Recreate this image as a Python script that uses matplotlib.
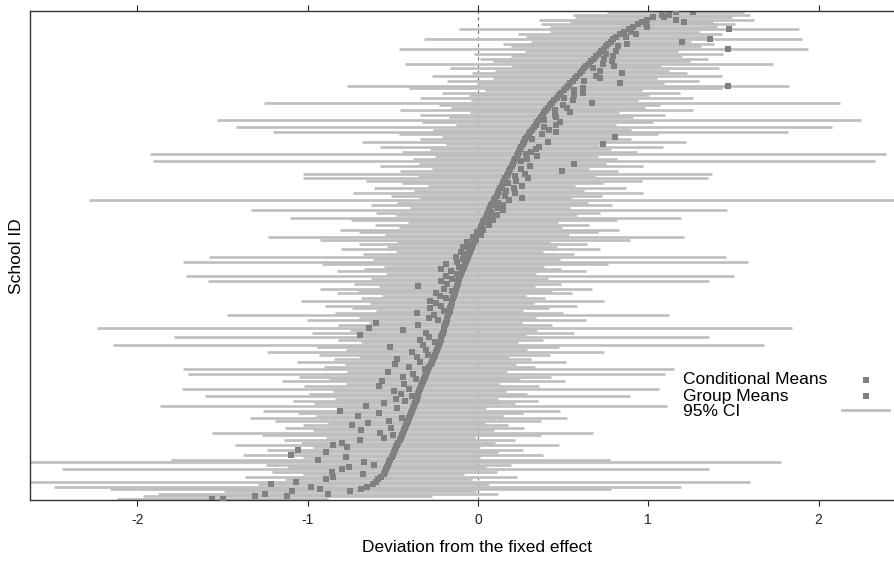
import numpy as np
import matplotlib
matplotlib.use('Agg')
import matplotlib.pyplot as plt

# schools sorted by conditional mean (bottom row first)
cond_means = [
    -1.50, -1.12, -0.88, -0.75, -0.69, -0.65, -0.615, -0.60, -0.585, -0.57,
    -0.555, -0.548, -0.541, -0.535, -0.528, -0.521, -0.515, -0.508, -0.501, -0.495,
    -0.488, -0.481, -0.475, -0.468, -0.461, -0.455, -0.449, -0.443, -0.437, -0.431,
    -0.425, -0.419, -0.413, -0.408, -0.402, -0.396, -0.39, -0.384, -0.378, -0.372,
    -0.367, -0.361, -0.355, -0.35, -0.344, -0.338, -0.332, -0.327, -0.321, -0.315,
    -0.31, -0.304, -0.297, -0.291, -0.285, -0.279, -0.273, -0.267, -0.261, -0.255,
    -0.249, -0.243, -0.237, -0.231, -0.225, -0.22, -0.215, -0.211, -0.207, -0.202,
    -0.198, -0.193, -0.189, -0.185, -0.18, -0.176, -0.171, -0.167, -0.162, -0.158,
    -0.154, -0.15, -0.146, -0.141, -0.137, -0.133, -0.128, -0.124, -0.12, -0.115,
    -0.111, -0.107, -0.102, -0.096, -0.09, -0.084, -0.078, -0.072, -0.066, -0.061,
    -0.055, -0.049, -0.043, -0.037, -0.031, -0.025, -0.019, -0.012, -0.005, 0.002,
    0.009, 0.016, 0.023, 0.03, 0.037, 0.044, 0.051, 0.058, 0.065, 0.072,
    0.079, 0.087, 0.094, 0.101, 0.109, 0.116, 0.124, 0.131, 0.138, 0.146,
    0.153, 0.161, 0.168, 0.175, 0.183, 0.19, 0.197, 0.204, 0.212, 0.219,
    0.226, 0.233, 0.241, 0.248, 0.255, 0.262, 0.27, 0.277, 0.287, 0.297,
    0.308, 0.318, 0.328, 0.339, 0.349, 0.359, 0.37, 0.38, 0.39, 0.401,
    0.411, 0.421, 0.435, 0.448, 0.462, 0.475, 0.488, 0.502, 0.515, 0.529,
    0.542, 0.555, 0.569, 0.582, 0.596, 0.609, 0.623, 0.637, 0.652, 0.666,
    0.68, 0.695, 0.709, 0.723, 0.737, 0.752, 0.766, 0.78, 0.795, 0.81,
    0.835, 0.86, 0.886, 0.911, 0.937, 0.962, 0.99, 1.03, 1.08, 1.16,
]

# group mean minus conditional mean (amount of shrinkage)
group_shift = [
    -0.06, -0.19, -0.37, -0.34, -0.24, -0.33, -0.60, -0.47, -0.31, -0.28,
    -0.12, -0.31, -0.26, -0.225, -0.08, -0.15, -0.425, -0.27, -0.60, -0.395,
    -0.57, -0.29, -0.375, -0.33, -0.23, -0.10, -0.05, -0.13, -0.25, -0.08,
    -0.315, -0.23, -0.11, -0.04, -0.30, -0.185, -0.42, -0.09, -0.28, -0.18,
    -0.06, -0.12, -0.03, -0.10, -0.15, -0.07, -0.25, -0.11, -0.24, -0.05,
    -0.13, -0.08, -0.23, -0.02, -0.12, -0.21, -0.07, -0.21, -0.10, -0.04,
    -0.14, -0.06, -0.28, -0.09, -0.03, -0.12, -0.07, -0.48, -0.10, -0.24,
    -0.44, -0.16, -0.41, -0.05, -0.11, -0.08, -0.19, -0.03, -0.12, -0.06,
    -0.09, -0.13, -0.04, -0.08, -0.11, -0.02, -0.07, -0.23, -0.06, -0.10,
    -0.04, -0.08, -0.02, -0.06, -0.13, -0.03, -0.11, -0.05, -0.02, -0.07,
    -0.03, -0.05, -0.01, -0.05, -0.02, -0.04, 0.01, -0.02, 0.02, -0.01,
    0.02, 0.01, 0.04, 0.02, 0.05, 0.03, 0.06, 0.02, 0.08, 0.04,
    0.07, 0.03, 0.09, 0.16, 0.05, 0.10, 0.04, 0.08, 0.12, 0.03,
    0.07, 0.13, 0.05, 0.10, 0.31, 0.06, 0.11, 0.36, 0.04, 0.07,
    0.12, 0.05, 0.07, 0.09, 0.105, 0.47, 0.14, 0.04, 0.52, 0.08,
    0.15, 0.10, 0.06, 0.12, 0.13, 0.03, 0.09, 0.07, 0.15, 0.05,
    0.11, 0.08, 0.235, 0.11, 0.04, 0.09, 0.13, 0.06, 0.10, 0.94,
    0.29, 0.07, 0.15, 0.11, 0.25, 0.11, 0.05, 0.16, 0.08, 0.12,
    0.06, 0.10, 0.04, 0.09, 0.73, 0.07, 0.11, 0.42, 0.565, 0.06,
    0.09, 0.04, 0.585, 0.08, 0.05, 0.25, 0.17, 0.06, 0.04, 0.10,
]

# half width of the 95% interval
ci_halfwidth = [
    0.62, 0.85, 1.00, 0.74, 1.47, 1.84, 0.68, 2.20, 0.55, 0.80,
    0.47, 0.66, 1.90, 0.58, 0.72, 2.30, 1.29, 0.52, 0.88, 0.61,
    0.75, 0.49, 0.95, 0.57, 0.68, 0.44, 0.82, 1.12, 0.53, 0.70,
    0.60, 0.46, 0.78, 0.93, 0.55, 0.66, 0.87, 0.43, 1.49, 0.59,
    0.72, 0.48, 1.25, 0.64, 0.51, 1.40, 0.69, 0.45, 0.83, 0.56,
    0.74, 1.40, 0.47, 1.44, 0.62, 0.50, 0.79, 0.58, 0.44, 0.68,
    0.99, 0.53, 0.71, 1.91, 0.46, 0.60, 1.57, 0.49, 0.77, 0.55,
    2.04, 0.63, 0.45, 0.82, 0.52, 1.30, 0.67, 0.43, 0.58, 0.74,
    0.48, 0.89, 0.54, 0.42, 0.69, 0.57, 0.80, 0.46, 0.61, 1.47,
    0.52, 1.61, 0.44, 0.73, 0.58, 0.47, 0.84, 1.66, 0.55, 1.52,
    0.62, 0.43, 0.76, 0.50, 0.67, 0.45, 0.91, 1.22, 0.54, 0.70,
    0.82, 0.48, 0.63, 0.44, 0.78, 1.15, 0.53, 0.66, 1.40, 0.47,
    0.71, 0.56, 2.38, 0.45, 0.62, 0.85, 0.50, 0.74, 0.43, 0.59,
    0.81, 1.19, 0.52, 1.20, 0.64, 0.46, 0.77, 0.55, 2.12, 0.60,
    0.48, 2.16, 0.69, 0.53, 0.83, 0.45, 0.95, 0.62, 0.50, 0.76,
    1.51, 0.58, 1.75, 0.47, 0.68, 1.89, 0.54, 0.72, 0.44, 0.86,
    0.57, 0.65, 1.69, 0.49, 0.80, 0.53, 0.70, 0.46, 0.92, 1.30,
    0.55, 0.74, 0.48, 0.85, 0.63, 0.51, 0.79, 0.44, 1.08, 0.58,
    0.67, 0.50, 0.73, 0.45, 1.20, 0.56, 0.62, 0.47, 1.11, 0.53,
    0.60, 0.44, 1.00, 0.49, 0.57, 0.42, 0.63, 0.46, 0.52, 0.40,
]

x_ticks = [-2, -1, 0, 1, 2]
legend_labels = ['Conditional Means', 'Group Means', '95% CI']

plt.rcParams['font.family'] = ['Liberation Sans', 'DejaVu Sans']
plt.rcParams['axes.unicode_minus'] = False

cond = np.array(cond_means)
group = cond + np.array(group_shift)
hw = np.array(ci_halfwidth)
rows = np.arange(1, len(cond) + 1)

pt_col = '#808080'
ci_col = '#bebebe'

fig = plt.figure(figsize=(8.95, 5.61), dpi=100)
# panel runs past the right edge of the picture, as in the original
ax = fig.add_axes([30 / 895, 61 / 561, 894 / 895, 489 / 561])

ax.hlines(rows, cond - hw, cond + hw, color=ci_col, lw=1.9, zorder=1)
ax.plot(group, rows, 's', color=pt_col, ms=4.8, mew=0, zorder=2)
ax.plot(cond, rows, 's', color=pt_col, ms=4.8, mew=0, zorder=3)
ax.axvline(0, color='#6e6e6e', lw=0.8, ls=(0, (3, 3)), zorder=0)

ax.set_xlim(-2.631, 2.619)
ax.set_ylim(0.5, len(cond) + 0.5)
ax.set_yticks([])
ax.set_xticks(x_ticks)
ax.set_xticklabels([str(t) for t in x_ticks])
ax.tick_params(axis='x', top=True, direction='out', length=4, width=0.8,
               labelsize=10, pad=5, colors='#222222')
for s in ax.spines.values():
    s.set_color('#333333')
    s.set_linewidth(1.0)

fig.text(477 / 895, 1 - 548 / 561, 'Deviation from the fixed effect',
         ha='center', va='center', fontsize=12.5)
fig.text(17 / 895, 1 - 256 / 561, 'School ID', rotation=90,
         ha='center', va='center', fontsize=12.5)

# key: text on the left, symbols on the right
tx = (683 - 30) / 894
ty = [(500 - 380) / 489, (500 - 396) / 489, (500 - 412) / 489]
for lab, yy in zip(legend_labels, ty):
    ax.text(tx, yy, lab, transform=ax.transAxes, ha='left', va='center',
            fontsize=12.5)
sx = (866 - 30) / 894
ax.plot([sx], [ty[0]], 's', color=pt_col, ms=4.5, mew=0, transform=ax.transAxes, clip_on=False)
ax.plot([sx], [ty[1]], 's', color=pt_col, ms=4.5, mew=0, transform=ax.transAxes, clip_on=False)
ax.plot([(842 - 30) / 894, (889 - 30) / 894], [ty[2] + 0.005, ty[2] + 0.005],
        color=ci_col, lw=2, transform=ax.transAxes, clip_on=False)

fig.savefig('out.png', dpi=100)
